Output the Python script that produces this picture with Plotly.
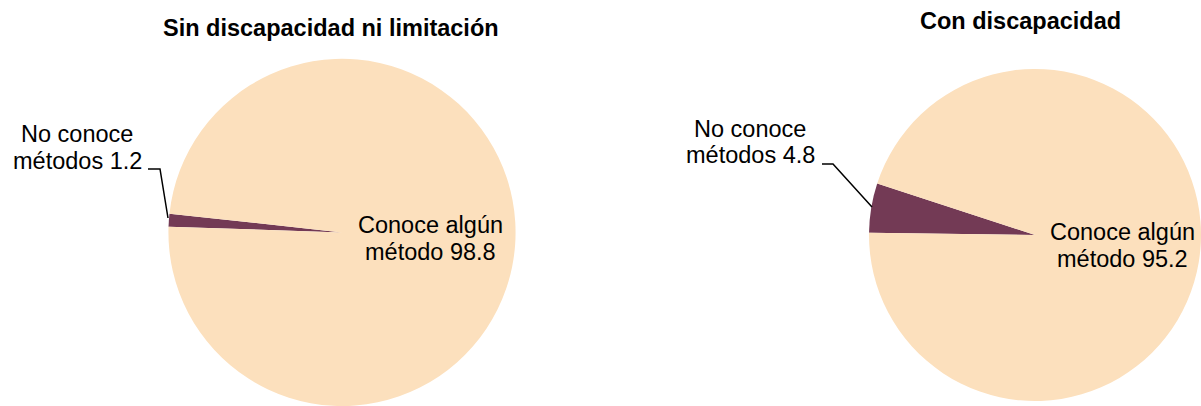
import plotly.graph_objects as go

# data
groups = ["Sin discapacidad ni limitación", "Con discapacidad"]
slice_labels = ["No conoce métodos", "Conoce algún método"]
sin_values = [1.2, 98.8]
con_values = [4.8, 95.2]

colors = ["#733A55", "#FCE0BD"]
W, H = 1201, 406


def px(x, y):
    # pixel position -> paper coords
    return x / W, 1 - y / H


def label_lines(label, value):
    words = label.split(" ")
    return [" ".join(words[:-1]), f"{words[-1]} {value:.1f}"]


fig = go.Figure()

fig.add_trace(go.Pie(
    labels=slice_labels, values=sin_values, sort=False, direction="clockwise",
    rotation=271.9, textinfo="none", hoverinfo="label+value",
    marker=dict(colors=colors, line=dict(width=0)),
    domain=dict(x=[168 / W, 516 / W], y=[0.0, 0.855]),
))
fig.add_trace(go.Pie(
    labels=slice_labels, values=con_values, sort=False, direction="clockwise",
    rotation=270.8, textinfo="none", hoverinfo="label+value",
    marker=dict(colors=colors, line=dict(width=0)),
    domain=dict(x=[869 / W, 1.0], y=[3 / H, 339 / H]),
))

font = dict(family="Liberation Sans, Arial, sans-serif", size=23.5, color="#000000")

annotations = [
    dict(x=px(331, 28)[0], y=px(331, 28)[1], text=f"<b>{groups[0]}</b>", font=font),
    dict(x=px(1020, 21)[0], y=px(1020, 21)[1], text=f"<b>{groups[1]}</b>", font=font),
]

# label positions (x center, line-1 y, line-2 y) in pixels
label_spots = [
    (sin_values[0], slice_labels[0], 77, 134, 161),
    (con_values[0], slice_labels[0], 750, 129, 155),
    (sin_values[1], slice_labels[1], 430, 225, 252),
    (con_values[1], slice_labels[1], 1122, 232, 259),
]
for value, label, cx, y1, y2 in label_spots:
    for line, yy in zip(label_lines(label, value), (y1, y2)):
        annotations.append(dict(x=px(cx, yy)[0], y=px(cx, yy)[1], text=line, font=font))

for a in annotations:
    a.update(xref="paper", yref="paper", showarrow=False, xanchor="center", yanchor="middle", align="center")

# leader lines
shapes = []
for pts in ([(148, 169), (160, 169), (168, 218)], [(822, 164), (833, 164), (872, 207)]):
    path = "M " + " L ".join(f"{px(x, y)[0]},{px(x, y)[1]}" for x, y in pts)
    shapes.append(dict(type="path", path=path, xref="paper", yref="paper",
                       line=dict(color="#000000", width=1.5)))

fig.update_layout(
    width=W, height=H,
    margin=dict(l=0, r=0, t=0, b=0),
    paper_bgcolor="white", plot_bgcolor="white",
    showlegend=False,
    annotations=annotations,
    shapes=shapes,
)

fig.write_html("out.html", config={"displayModeBar": False},
               post_script="document.body.style.margin='0';document.body.style.overflow='hidden';")
